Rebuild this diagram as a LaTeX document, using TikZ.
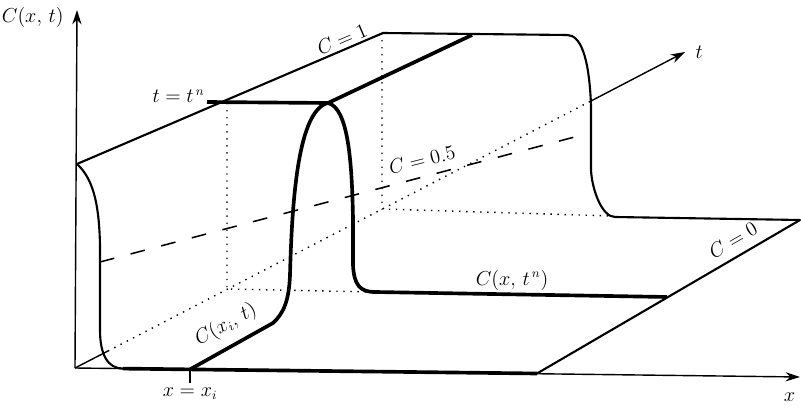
\documentclass[tikz,border=0pt]{standalone}
\usepackage{tikz}
\usetikzlibrary{arrows.meta}

\begin{document}
\begin{tikzpicture}[x=0.025cm, y=-0.025cm, every node/.style={font=\fontsize{13.5}{16}\selectfont, inner sep=1pt},
  axis/.style={line width=1pt}, arr/.style={axis, -{Stealth[length=3.6mm, width=2.3mm]}},
  edge/.style={line width=1.5pt, line join=round}, bold/.style={line width=2.6pt, line join=round},
  hidden/.style={line width=1pt, dash pattern=on 1pt off 4pt}, level/.style={line width=1.1pt, dash pattern=on 10.5pt off 12pt}]
\useasboundingbox (0,0) rectangle (801,412);
% axes
\coordinate (O) at (75,368); \coordinate (tin) at (108,351); \coordinate (tout) at (591,101);
\draw[arr] (O) -- (77,10) node[anchor=east, xshift=-8pt, yshift=-5pt] (Clab) {$C(x,\,t)$};
\draw[arr] (O) -- (800,377) node[below left, xshift=-2pt, yshift=-10pt] (xlab) {$x$};
\draw[axis] (O) -- (tin); \draw[hidden] (tin) -- (tout);
\draw[arr] (tout) -- (685,52) node[right, xshift=6pt] (tlab) {$t$};
% surface edges
\coordinate (A) at (77,164); \coordinate (B) at (383,33); \coordinate (Bp) at (567,35);
\coordinate (D) at (615,217); \coordinate (E) at (800,220); \coordinate (F) at (537,373.5);
\draw[edge] (A) .. controls (92,178) and (99,200) .. (100,245) -- (100,330) .. controls (100,355) and (108,368.6) .. (123,368.6);
\draw[edge] (A) -- (B) -- (Bp) .. controls (580,35) and (589,55) .. (591,105) -- (591,170) .. controls (592,190) and (602,217) .. (D) -- (E) -- (F);
\draw[bold] (123,368.6) -- (F);
% hidden lines
\draw[hidden] (227,103) -- (227,289) -- (375,292);
\draw[hidden] (382,33) -- (382,209) -- (612,216);
\draw[level] (100,262) -- (586,134);
% profiles at x = x_i and t = t^n
\coordinate (xi) at (190,369.4); \coordinate (top) at (328,103);
\draw[axis] (xi) -- (190,383) node[below, yshift=-2pt] (xilab) {$x = x_i$};
\draw[bold] (xi) -- (273,323) .. controls (284,313) and (289,300) .. (290,275) .. controls (292,200) and (298,110) .. (top) -- (472,35);
\draw[bold] (207,102) -- (top) .. controls (348,108) and (352,160) .. (353,220) -- (353,265) .. controls (354,285) and (360,292) .. (375,292) -- (667,297);
% labels
\node[anchor=east] (tnlab) at (206,96) {$t = t^{\,n}$};
\node[rotate=23] (C1) at (342,39) {$C = 1$};
\node[rotate=14] (Chalf) at (422,160) {$C = 0.5$};
\node (Ctn) at (512,280) {$C(x,\,t^{\,n})$};
\node[rotate=30] (C0) at (733,240) {$C = 0$};
\node[rotate=29] (Cxi) at (226,325) {$C(x_i,\,t)$};
\end{tikzpicture}
\end{document}
